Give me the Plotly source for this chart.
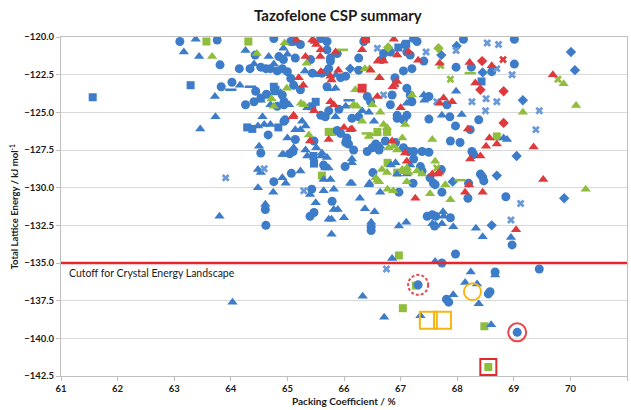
import plotly.graph_objects as go

# ---------------- data ----------------
blue_circle_x = [63.10,63.76,63.81,64.15,64.34,63.83,64.02,64.44,64.53,64.63,64.66,64.96,64.82,64.94,64.76,65.07,64.61,64.62,65.43,65.40,65.47,65.79,66.48,66.48,66.02,66.51,65.64,65.04,65.10,64.53,64.76,65.06,65.11,65.23,65.59,65.70,65.41,64.43,64.85,64.93,65.14,64.53,64.62,64.70,64.82,64.91,65.00,65.06,65.44,65.61,65.70,65.11,65.23,64.41,64.26,64.91,64.94,65.59,65.67,65.70,65.76,65.88,66.26,66.70,66.67,67.08,67.11,67.17,66.82,65.73,65.76,65.94,66.03,66.26,66.90,67.05,67.20,65.70,67.11,66.41,66.47,66.85,66.82,65.91,65.73,67.17,67.20,67.11,66.94,64.94,65.14,65.47,66.26,66.14,66.94,67.05,65.94,65.88,66.05,66.08,66.17,66.03,66.41,66.50,66.56,66.62,66.73,66.91,67.05,67.14,66.97,67.23,67.38,67.50,68.26,68.29,67.23,67.35,67.38,67.52,67.72,67.22,67.58,67.61,68.20,68.41,68.45,68.47,67.73,68.19,68.86,67.47,67.56,67.62,67.88,67.60,68.97,67.97,66.35,67.23,67.29,68.11,69.01,67.41,67.98,69.01,68.25,68.61,67.50,67.82,67.50,67.87,67.97,68.38,68.23,67.88,68.05,67.31,67.81,67.85,68.67,68.58,68.55,69.45,69.06,67.73]
blue_circle_y = [-120.3,-120.2,-121.85,-122.1,-122.1,-123.3,-123.0,-123.6,-124.05,-123.8,-126.5,-125.5,-124.6,-124.5,-129.6,-129.05,-131.45,-132.5,-130.1,-131.9,-131.65,-130.9,-132.6,-132.85,-128.6,-129.0,-128.5,-127.75,-127.6,-127.7,-120.1,-120.3,-120.3,-120.5,-120.1,-120.3,-121.5,-121.2,-121.3,-121.5,-121.4,-122.0,-122.1,-122.1,-122.25,-122.1,-122.3,-122.75,-122.4,-122.4,-122.3,-123.2,-123.5,-124.3,-124.5,-123.85,-124.3,-125.2,-125.3,-120.85,-121.4,-121.1,-121.4,-121.1,-121.5,-120.5,-121.0,-121.2,-121.0,-122.1,-121.6,-122.7,-122.6,-122.2,-122.7,-122.25,-122.1,-123.3,-123.4,-123.95,-124.3,-123.85,-124.5,-124.8,-124.9,-123.85,-124.3,-125.2,-125.2,-125.6,-126.8,-126.9,-125.3,-125.4,-125.4,-125.5,-126.4,-126.2,-126.7,-127.1,-127.5,-127.0,-127.6,-127.35,-127.1,-127.5,-126.9,-127.0,-127.35,-127.6,-130.3,-127.6,-127.6,-127.65,-127.6,-127.8,-128.1,-128.6,-128.9,-129.35,-128.8,-129.7,-129.7,-129.8,-129.7,-129.1,-129.3,-129.55,-130.3,-130.7,-130.6,-131.9,-131.8,-131.9,-132.0,-132.55,-133.8,-134.4,-120.3,-120.1,-120.3,-120.15,-120.15,-121.6,-122.0,-121.8,-122.0,-122.3,-123.95,-124.5,-125.45,-125.3,-125.9,-125.5,-126.15,-126.9,-127.0,-136.45,-137.4,-137.6,-135.6,-136.9,-137.05,-135.4,-139.6,-135.0]

blue_triangle_x = [63.38,63.17,63.44,64.26,64.16,63.72,63.73,63.46,64.48,64.59,64.70,64.97,63.80,64.48,64.48,64.53,64.75,64.91,64.97,65.23,64.61,65.40,65.50,65.64,65.82,65.82,65.89,65.73,65.78,66.00,65.78,66.28,66.37,66.54,66.48,66.14,66.14,66.45,66.64,66.83,66.97,65.35,65.61,65.67,65.73,65.64,65.76,64.93,64.93,64.67,65.00,64.41,64.76,65.31,65.50,64.88,64.53,64.70,64.97,65.03,65.35,65.86,65.85,66.03,66.32,66.44,67.11,64.56,65.26,65.32,65.23,65.14,65.00,64.50,64.91,65.11,65.32,65.51,65.60,65.85,66.53,66.64,65.70,66.14,66.91,66.94,67.11,66.11,66.44,67.17,67.75,67.76,67.56,67.62,67.73,67.93,67.10,68.33,68.45,68.95,67.41,67.42,67.98,67.73,68.08,68.82,68.88,66.85,67.61,66.33,66.71,67.35,68.24,68.14,68.35,67.93,68.38,68.67,68.60,64.03]
blue_triangle_y = [-120.15,-121.0,-121.3,-120.9,-123.2,-123.95,-125.3,-126.1,-125.9,-125.8,-125.8,-124.3,-131.9,-130.0,-128.8,-129.0,-130.3,-129.35,-129.7,-128.9,-131.1,-130.45,-131.0,-130.2,-130.1,-131.45,-131.45,-132.1,-132.1,-132.0,-133.1,-130.7,-131.4,-131.6,-132.3,-129.7,-128.1,-129.7,-130.3,-128.5,-132.55,-127.9,-127.7,-128.7,-128.7,-129.45,-129.45,-127.8,-120.75,-121.3,-121.15,-121.8,-121.8,-122.25,-122.5,-123.7,-124.2,-124.5,-124.5,-124.5,-124.7,-122.5,-123.4,-124.6,-124.9,-125.0,-124.4,-125.3,-125.6,-125.9,-126.15,-126.15,-126.7,-127.25,-127.8,-127.35,-127.5,-127.35,-127.9,-125.3,-125.6,-127.25,-128.0,-128.35,-128.35,-129.1,-129.1,-129.7,-129.8,-128.5,-131.6,-131.9,-132.4,-132.5,-132.4,-132.6,-132.3,-132.7,-133.25,-133.3,-123.85,-124.2,-123.6,-125.2,-125.15,-126.7,-126.8,-134.7,-134.9,-137.2,-138.6,-138.5,-135.6,-136.3,-136.4,-137.1,-137.7,-135.8,-139.1,-137.6]

blue_square_x = [61.56,63.29,64.29,64.38,64.84,64.79,65.47,65.46,64.76,64.77,65.44,65.50,66.96,67.10,68.43]
blue_square_y = [-124.0,-123.2,-126.0,-126.1,-126.0,-123.5,-128.4,-127.9,-123.3,-123.6,-124.6,-124.3,-120.7,-120.45,-122.95]

blue_diamond_x = [66.11,69.05,67.92,68.70,69.89,68.61,67.72,67.99,70.01,68.45,70.08,69.16]
blue_diamond_y = [-122.1,-127.9,-129.6,-129.2,-130.7,-132.5,-121.2,-120.6,-121.0,-122.35,-122.2,-124.2]

blue_x_x = [63.91,64.59,65.29,69.12,68.95,66.59,67.45,68.53,68.73,67.98,68.70,68.97,66.70,67.64,68.26,68.51,68.70,68.50,69.45,69.39,66.75]
blue_x_y = [-129.35,-128.75,-130.2,-131.05,-132.15,-120.75,-121.0,-120.4,-120.5,-120.9,-122.1,-122.5,-123.85,-124.3,-124.3,-124.1,-124.3,-124.9,-124.9,-126.15,-135.4]

blue_dash_x = [64.00,64.35,65.75,66.09,66.14]
blue_dash_y = [-123.5,-123.3,-123.5,-124.2,-124.6]

red_triangle_x = [65.16,65.44,65.48,65.51,65.59,65.58,65.32,65.20,65.59,65.28,65.11,65.47,65.85,66.32,66.88,66.60,66.94,65.90,65.76,65.78,66.47,66.94,66.86,66.59,65.76,65.82,67.00,65.10,65.40,66.00,66.11,66.14,65.73,66.85,67.08,68.23,68.41,67.11,67.56,67.65,67.68,68.21,69.52,67.26,68.14,68.45,69.04,67.14,66.61,66.70,67.31,67.69,68.22,68.61,66.63,69.69,68.32,67.69,67.76,67.91,68.19,68.57,68.70,68.51,69.35]
red_triangle_y = [-120.2,-120.2,-120.3,-120.5,-120.85,-121.3,-121.3,-122.7,-122.3,-123.2,-125.2,-124.9,-121.0,-120.85,-120.15,-121.6,-121.2,-122.2,-122.6,-122.85,-122.2,-122.95,-123.3,-123.95,-124.3,-124.5,-124.7,-125.3,-126.9,-126.0,-126.15,-126.1,-126.8,-126.9,-127.7,-128.1,-127.9,-128.25,-129.1,-129.1,-129.0,-129.8,-129.45,-130.7,-130.3,-130.3,-132.8,-121.0,-121.6,-121.6,-121.55,-121.75,-121.7,-121.9,-122.7,-122.5,-123.05,-124.4,-124.05,-124.3,-126.1,-126.7,-127.1,-127.25,-127.3]

red_square_x = [66.38,66.32]
red_square_y = [-120.1,-123.4]

red_diamond_x = [68.44,68.41,68.82,68.82]
red_diamond_y = [-121.6,-123.5,-123.6,-125.7]

red_x_x = [68.81,66.91]
red_x_y = [-121.5,-123.1]

green_triangle_x = [63.67,64.46,64.99,64.72,64.95,65.34,64.76,65.24,65.29,66.37,66.45,66.62,66.20,66.17,66.23,66.50,66.64,65.38,66.32,67.08,66.44,66.70,66.76,66.79,66.88,66.94,67.03,66.67,66.76,67.03,67.11,66.56,66.62,66.59,66.77,66.87,67.61,67.05,67.14,67.29,67.38,67.11,67.79,70.27,67.52,67.88,69.88,67.20,70.10,69.16,67.56]
green_triangle_y = [-121.3,-121.1,-123.4,-124.1,-120.4,-121.75,-124.6,-124.4,-124.5,-122.1,-122.1,-122.7,-123.5,-124.5,-124.6,-124.5,-125.0,-126.5,-125.6,-125.8,-126.6,-125.8,-126.0,-127.35,-127.25,-127.5,-126.7,-128.8,-129.0,-128.8,-128.7,-129.35,-129.6,-129.5,-130.1,-130.2,-128.25,-128.95,-129.0,-128.9,-129.1,-129.6,-129.8,-130.1,-130.4,-130.8,-123.1,-123.85,-124.55,-125.0,-126.8]

green_square_x = [63.57,64.31,65.61,66.77,66.94,65.73,65.79,66.59,66.76,68.70,66.97,67.04,68.48,68.55,67.27]
green_square_y = [-120.3,-120.3,-129.2,-128.35,-129.0,-126.3,-126.3,-126.3,-126.3,-126.6,-134.5,-138.0,-139.2,-141.9,-136.5]

green_diamond_x = [66.78,67.67]
green_diamond_y = [-120.7,-120.75]

green_x_x = [67.88,69.78,67.64,67.71]
green_x_y = [-122.8,-122.8,-128.7,-121.9]

green_dash_x = [65.97,68.05,68.23,66.41,66.56]
green_dash_y = [-120.85,-129.5,-122.4,-126.4,-126.5]

# highlighted structures
orange_circle_x = [68.27]
orange_circle_y = [-136.9]
orange_square_x = [67.49, 67.74]
orange_square_y = [-138.8, -138.8]
red_ring_x = [69.06]
red_ring_y = [-139.6]
red_box_x = [68.55]
red_box_y = [-141.9]
dashed_ring_x = 67.31
dashed_ring_y = -136.45

cutoff = -135.0
x_ticks = [61, 62, 63, 64, 65, 66, 67, 68, 69, 70, 71]
y_ticks = [-120.0, -122.5, -125.0, -127.5, -130.0, -132.5, -135.0, -137.5, -140.0, -142.5]

BLUE = "#3d7cc8"
LBLUE = "#6a9bd8"
RED = "#de3a3d"
GREEN = "#8fbd3c"
ORANGE = "#f5b611"

fig = go.Figure()

def add(x, y, symbol, color, size, lw=0, lc=None):
    fig.add_trace(go.Scatter(
        x=x, y=y, mode="markers", hoverinfo="x+y",
        marker=dict(symbol=symbol, color=color, size=size,
                    line=dict(width=lw, color=lc if lc else color))))

add(green_square_x, green_square_y, "square", GREEN, 8)
add(blue_circle_x, blue_circle_y, "circle", BLUE, 9)
add(blue_triangle_x, blue_triangle_y, "triangle-up", BLUE, 9)
add(blue_square_x, blue_square_y, "square", BLUE, 8)
add(blue_diamond_x, blue_diamond_y, "diamond", BLUE, 8)
add(blue_x_x, blue_x_y, "x", LBLUE, 7)
add(blue_dash_x, blue_dash_y, "line-ew", BLUE, 8, 2.5)
add(green_triangle_x, green_triangle_y, "triangle-up", GREEN, 9)
add(green_diamond_x, green_diamond_y, "diamond", GREEN, 8)
add(green_x_x, green_x_y, "x", GREEN, 7)
add(green_dash_x, green_dash_y, "line-ew", GREEN, 8, 2.5)
add(red_triangle_x, red_triangle_y, "triangle-up", RED, 9)
add(red_square_x, red_square_y, "square", RED, 9)
add(red_diamond_x, red_diamond_y, "diamond", RED, 8)
add(red_x_x, red_x_y, "x", RED, 7)

add(orange_circle_x, orange_circle_y, "circle-open", ORANGE, 17, 2)
add(orange_square_x, orange_square_y, "square-open", ORANGE, 17, 2)
add(red_ring_x, red_ring_y, "circle-open", "#e8474c", 18, 2)
add(red_box_x, red_box_y, "square-open", "#e02a2e", 16, 2)

# cutoff line
fig.add_shape(type="line", xref="paper", x0=0, x1=1, yref="y", y0=cutoff, y1=cutoff,
              line=dict(color="#e8262c", width=2.5))
# dashed ring
fig.add_shape(type="circle", xref="x", yref="y", xsizemode="pixel", ysizemode="pixel",
              xanchor=dashed_ring_x, yanchor=dashed_ring_y, x0=-10, x1=10, y0=-10, y1=10,
              line=dict(color="#e8474c", width=2, dash="3px,2px"))

fig.add_annotation(text="Cutoff for Crystal Energy Landscape", xref="paper", x=0.01,
                   xanchor="left", yref="y", y=cutoff, yshift=-10, yanchor="middle",
                   showarrow=False, font=dict(family="Lato", size=10.5, color="#1a1a1a"))

# title and axis titles
fig.add_annotation(text="<b>Tazofelone CSP summary</b>", xref="paper", x=0.49, xanchor="center",
                   yref="paper", y=1, yshift=22, yanchor="middle", showarrow=False,
                   font=dict(family="Lato", size=15, color="#1a1a1a"))
fig.add_annotation(text="<b>Packing Coefficient / %</b>", xref="paper", x=0.5, xanchor="center",
                   yref="paper", y=0, yshift=-25, yanchor="middle", showarrow=False,
                   font=dict(family="Lato", size=10, color="#1a1a1a"))
fig.add_annotation(text="<b>Total Lattice Energy / kJ mol<sup>-1</sup></b>", textangle=-90,
                   xref="paper", x=0, xshift=-47, xanchor="center",
                   yref="paper", y=0.5, yanchor="middle", showarrow=False,
                   font=dict(family="Lato", size=9.5, color="#1a1a1a"))

fig.update_layout(
    width=631, height=410,
    margin=dict(l=61, r=4, t=37, b=34, autoexpand=False),
    paper_bgcolor="white", plot_bgcolor="white",
    showlegend=False,
    font=dict(family="Lato", color="#1a1a1a"),
)
fig.update_xaxes(range=[61, 71], tickvals=x_ticks, showgrid=False, zeroline=False, automargin=False,
                 showline=True, linecolor="#bfbfbf", linewidth=1, mirror=True,
                 ticks="outside", ticklen=4, tickcolor="#bfbfbf",
                 tickfont=dict(family="Lato", size=9.5, weight="bold"))
fig.update_yaxes(range=[-142.5, -120], tickvals=y_ticks, tickformat=".1f", automargin=False,
                 showgrid=True, gridcolor="#d9d9d9", gridwidth=1, zeroline=False,
                 showline=True, linecolor="#bfbfbf", linewidth=1, mirror=True,
                 ticks="outside", ticklen=4, tickcolor="#bfbfbf",
                 tickfont=dict(family="Lato", size=9.5, weight="bold"))

fig.write_html("out.html", config={"displayModeBar": False},
               post_script="document.body.style.margin='0px';document.body.style.overflow='hidden';")
